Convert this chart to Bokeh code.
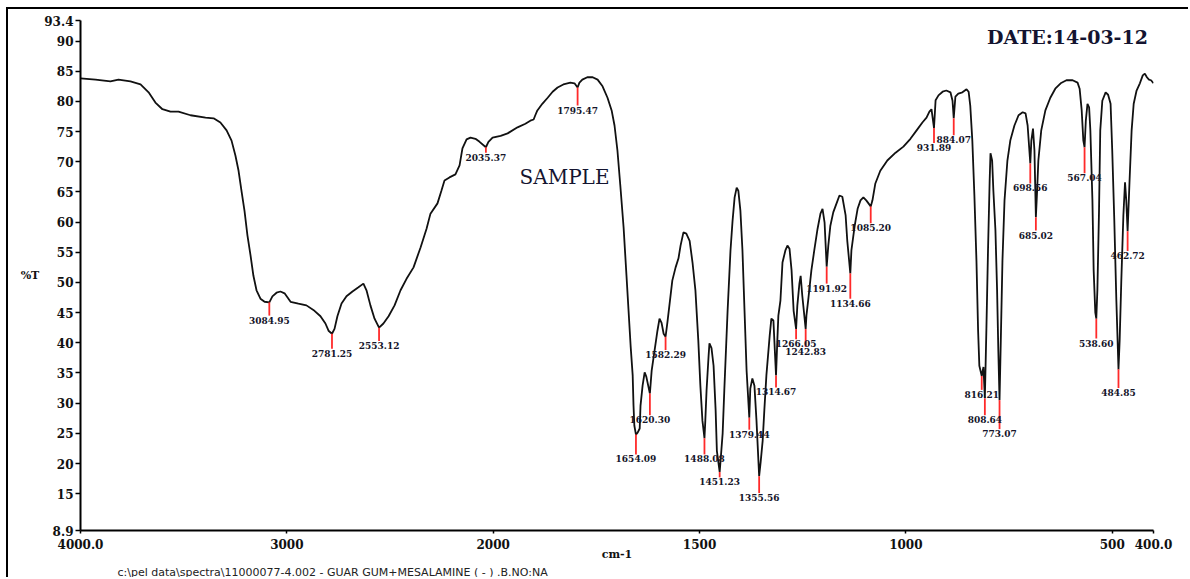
import numpy as np
from bokeh.plotting import figure
from bokeh.models import FixedTicker, Label, Title, ColumnDataSource
from bokeh.core.properties import value
from bokeh.embed import file_html
from bokeh.resources import INLINE

# FT-IR transmittance spectrum: wavenumber (cm-1) and %T
wavenumber = [
    4000, 3927, 3855, 3816, 3758, 3709, 3670, 3637, 3603, 3564, 3525, 3467, 3394, 3355,
    3322, 3292, 3268, 3249, 3234, 3220, 3205, 3191, 3176, 3162, 3147, 3128, 3108, 3084.95,
    3070, 3050, 3031, 3011, 2982, 2944, 2905, 2866, 2837, 2813, 2798, 2781.25, 2769, 2755,
    2735, 2711, 2682, 2653, 2629, 2614, 2595, 2575, 2553.12, 2532, 2507, 2478, 2449, 2420,
    2386, 2352, 2323, 2304, 2270, 2251, 2236, 2212, 2183, 2163, 2149, 2129, 2110, 2086,
    2066, 2035.37, 2023, 2003, 1982, 1965, 1941, 1922, 1910, 1902, 1898, 1893, 1881, 1868,
    1856, 1844, 1830, 1813, 1803, 1795.47, 1791, 1784, 1772, 1759, 1747, 1735, 1723, 1713,
    1706, 1699, 1692, 1684, 1677, 1672, 1667, 1662, 1660, 1658, 1654.09, 1650, 1645, 1643,
    1638, 1633, 1629, 1620.30, 1616, 1609, 1602, 1597, 1592, 1587, 1582.29, 1578, 1573,
    1566, 1558, 1551, 1546, 1539, 1532, 1524, 1517, 1510, 1503, 1498, 1493, 1488.08, 1486,
    1483, 1478, 1476, 1471, 1466, 1461, 1458, 1451.23, 1449, 1444, 1440, 1432, 1425, 1420,
    1415, 1410, 1406, 1401, 1396, 1391, 1386, 1379.44, 1377, 1372, 1367, 1362, 1355.56,
    1352, 1347, 1343, 1338, 1330, 1326, 1321, 1314.67, 1312, 1309, 1304, 1299, 1292, 1287,
    1282, 1277, 1272, 1266.05, 1263, 1258, 1255, 1251, 1242.83, 1241, 1236, 1229, 1222,
    1214, 1207, 1202, 1197, 1191.92, 1188, 1183, 1176, 1168, 1161, 1154, 1146, 1142,
    1134.66, 1132, 1124, 1117, 1110, 1103, 1096, 1085.20, 1081, 1074, 1062, 1045, 1025,
    1006, 989, 974, 960, 950, 943, 938, 931.89, 928, 921, 911, 902, 892, 887, 884.07, 880,
    873, 863, 853, 848, 844, 839, 834, 829, 825, 822, 816.21, 812, 808.64, 805, 801, 797,
    795, 791, 788, 783, 779, 776, 773.07, 770, 766, 761, 754, 747, 737, 727, 717, 710, 705,
    698.56, 696, 692, 688.5, 685.02, 682, 679, 672, 662, 650, 638, 625, 611, 596, 584, 579,
    574, 570, 567.04, 564, 560, 556, 553, 548, 545, 541, 538.60, 536, 532, 529, 524, 516,
    510, 504, 500, 495, 490, 484.85, 482, 478, 473, 469, 466, 462.72, 458, 453, 448, 441,
    433, 426, 421, 416, 411, 406, 400,
]
transmittance = [
    83.8, 83.6, 83.3, 83.6, 83.3, 82.8, 81.5, 79.8, 78.7, 78.3, 78.3, 77.7, 77.3, 77.2,
    76.5, 75.2, 73.5, 71.0, 68.5, 65.2, 61.8, 57.8, 54.5, 51.1, 48.7, 47.3, 46.8, 46.7,
    47.7, 48.3, 48.5, 48.2, 46.8, 46.5, 46.2, 45.3, 44.4, 43.2, 42.0, 41.5, 42.3, 44.4,
    46.5, 47.7, 48.5, 49.2, 49.8, 48.7, 46.2, 44.0, 42.5, 43.2, 44.4, 46.2, 48.7, 50.6,
    52.5, 55.8, 58.9, 61.4, 63.1, 65.2, 66.9, 67.4, 67.9, 69.4, 72.2, 73.7, 74.0, 73.8,
    73.3, 72.4, 73.3, 74.0, 74.3, 74.7, 75.7, 76.3, 76.8, 77.0, 77.7, 78.5, 79.6, 80.6,
    81.6, 82.3, 82.8, 83.1, 83.0, 82.3, 83.1, 83.6, 84.0, 84.0, 83.6, 82.5, 80.6, 78.5,
    76.0, 71.9, 66.1, 59.1, 51.1, 45.3, 39.5, 34.6, 29.6, 26.3, 24.8, 25.1, 25.8, 29.6,
    32.9, 35.1, 34.4, 31.6, 35.4, 38.7, 42.0, 44.0, 43.3, 41.5, 41.0, 43.3, 46.2,
    50.3, 52.5, 54.0, 56.1, 58.3, 58.1, 56.9, 53.3, 48.7, 40.4, 32.9, 27.1, 24.2, 27.1,
    32.1, 37.9, 39.9, 39.1, 36.2, 28.8, 22.1, 18.6, 20.5, 25.0, 32.1, 45.3, 55.3, 60.2,
    64.1, 65.7, 65.2, 61.9, 55.3, 45.3, 35.4, 27.6, 32.4, 34.1, 32.9, 27.1, 17.9,
    20.2, 23.8, 28.8, 34.6, 41.2, 44.0, 43.7, 34.6, 39.5, 44.5, 47.0, 53.3, 55.3, 56.1,
    55.6, 52.0, 45.3, 42.3, 46.2, 49.8, 51.1, 47.8, 42.3, 44.5, 47.5, 52.0, 55.3,
    58.9, 61.4, 62.2, 59.9, 52.6, 56.1, 59.4, 61.6, 63.1, 64.4, 64.2, 61.1, 56.9,
    51.5, 55.3, 59.4, 62.2, 63.6, 64.1, 63.6, 62.6, 63.6, 66.4, 68.5, 70.2, 71.5,
    72.5, 73.8, 75.2, 76.5, 77.3, 78.3, 78.7, 75.6, 80.2, 81.0, 81.6, 81.8, 81.5, 80.1, 77.2, 80.8,
    81.3, 81.5, 82.0, 81.6, 79.3, 73.5, 64.4, 53.6, 42.0, 36.2, 34.5, 36.0, 30.8, 42.0, 55.3, 66.9,
    71.4, 70.2, 65.2, 58.6, 48.7, 38.7, 30.5, 40.4, 53.6, 63.6, 70.2, 73.5, 76.0, 77.7, 78.2, 78.0, 76.0,
    69.7, 73.5, 75.5, 71.9, 60.8, 65.2, 70.2, 75.2, 78.5, 80.6, 82.1, 83.0, 83.5, 83.5, 83.1, 82.1,
    78.5, 73.5, 72.4, 76.8, 79.6, 79.0, 75.2, 63.6, 52.0, 45.0, 44.0, 48.7, 61.9, 75.2, 80.1, 81.5,
    81.1, 79.6, 71.9, 60.3, 47.0, 35.6, 40.4, 50.3, 61.1, 66.6, 63.6, 58.5, 66.9, 75.2, 79.6, 81.8,
    83.0, 84.3, 84.6, 84.0, 83.6, 83.5, 83.0,
]

# Picked bands and their labels
peak_wavenumber = [
    3084.95, 2781.25, 2553.12, 2035.37, 1795.47, 1654.09, 1620.30, 1582.29, 1488.08,
    1451.23, 1379.44, 1355.56, 1314.67, 1266.05, 1242.83, 1191.92, 1134.66, 1085.20,
    931.89, 884.07, 816.21, 808.64, 773.07, 698.56, 685.02, 567.04, 538.60, 484.85, 462.72,
]
peak_label = [f"{w:.2f}" for w in peak_wavenumber]

# Length of each red marker below its band, in %T
marker_drop = [
    2.2, 2.5, 2.2, 0.9, 3.0, 3.3, 3.6, 2.2, 2.7,
    0.9, 2.0, 2.8, 2.0, 1.7, 3.0, 2.8, 4.2, 2.8,
    2.5, 2.8, 2.3, 2.8, 4.8, 3.3, 2.2, 4.3, 3.3, 3.1, 3.3,
]

x_tick_values = [4000, 3000, 2000, 1500, 1000, 500, 400]
x_tick_labels = ["4000.0", "3000", "2000", "1500", "1000", "500", "400.0"]
y_tick_values = [8.9, 15, 20, 25, 30, 35, 40, 45, 50, 55, 60, 65, 70, 75, 80, 85, 90, 93.4]
y_tick_labels = ["8.9", "15", "20", "25", "30", "35", "40", "45", "50", "55", "60",
                 "65", "70", "75", "80", "85", "90", "93.4"]

FILE_LABEL = r"c:\pel data\spectra\11000077-4.002 - GUAR GUM+MESALAMINE ( - ) .B.NO:NA"


def axis_pos(w):
    """Instrument abscissa: the scale is expanded twofold below 2000 cm-1."""
    w = np.asarray(w, dtype=float)
    return np.where(w >= 2000, 4000 - w, 2000 + 2 * (2000 - w))


wn = np.array(wavenumber, dtype=float)
tr = np.array(transmittance, dtype=float)
peak_t = np.interp(peak_wavenumber, wn[::-1], tr[::-1])
drop = np.array(marker_drop)

SERIF = "DejaVu Serif"

p = figure(
    width=1182, height=570,
    x_range=(0, 5200), y_range=(8.9, 93.4),
    output_backend="svg", toolbar_location=None,
    min_border_left=72, min_border_right=37, min_border_top=11, min_border_bottom=49,
)
p.styles = {
    "margin-left": "6px", "margin-top": "7px",
    "border-left": "2px solid #000", "border-top": "2px solid #000",
}
p.outline_line_color = None
p.grid.visible = False
p.background_fill_color = "white"
p.border_fill_color = "white"

spectrum = ColumnDataSource(data=dict(x=axis_pos(wn), y=tr))
p.line("x", "y", source=spectrum, line_color="#111111", line_width=1.8)

peaks = ColumnDataSource(data=dict(
    x=axis_pos(peak_wavenumber), top=peak_t, bottom=peak_t - drop, label=peak_label,
))
p.segment(x0="x", y0="top", x1="x", y1="bottom", source=peaks,
          line_color="#ff2a2a", line_width=1.8)
p.text(x="x", y="bottom", text="label", source=peaks,
       text_font=value(SERIF), text_font_style="bold", text_font_size="9px",
       text_color="#15152a", text_align="center", text_baseline="top", y_offset=1)

# axes
xa = p.xaxis[0]
xa.ticker = FixedTicker(ticks=[float(v) for v in axis_pos(x_tick_values)])
xa.major_label_overrides = {float(v): lab for v, lab in zip(axis_pos(x_tick_values), x_tick_labels)}
xa.axis_label = "cm-1"
xa.axis_label_standoff = -4
xa.major_tick_out = 3
xa.major_tick_in = 0
xa.major_label_standoff = 5

ya = p.yaxis[0]
ya.ticker = FixedTicker(ticks=y_tick_values)
ya.major_label_overrides = {float(v): lab for v, lab in zip(y_tick_values, y_tick_labels)}
ya.axis_label = "%T"
ya.axis_label_standoff = 2
if "axis_label_orientation" in ya.properties():
    ya.axis_label_orientation = "horizontal"
ya.major_tick_out = 5
ya.major_tick_in = 0
ya.major_label_standoff = 2

for ax in (xa, ya):
    ax.axis_line_color = "#000000"
    ax.axis_line_width = 2
    ax.major_tick_line_color = "#000000"
    ax.major_tick_line_width = 1.5
    ax.minor_tick_line_color = None
    ax.major_label_text_font = SERIF
    ax.major_label_text_font_style = "bold"
    ax.major_label_text_font_size = "12px"
    ax.major_label_text_color = "#111111"
    ax.axis_label_text_font = SERIF
    ax.axis_label_text_font_style = "bold"
    ax.axis_label_text_font_size = "11px"
    ax.axis_label_text_color = "#111111"

p.add_layout(Label(x=float(axis_pos(608.4)), y=90.6, text="DATE:14-03-12", text_font=SERIF,
                   text_font_style="bold", text_font_size="19px", text_align="center",
                   text_baseline="middle", text_color="#141430"))
p.add_layout(Label(x=float(axis_pos(1827.2)), y=67.4, text="SAMPLE", text_font=SERIF,
                   text_font_size="20px", text_align="center", text_baseline="middle",
                   text_color="#141430"))

# data file name under the axis
p.add_layout(Title(text=FILE_LABEL, align="left", offset=37, standoff=0,
                   text_font="DejaVu Sans", text_font_size="11px",
                   text_font_style="normal", text_color="#222222"), "below")

open("out.html", "w").write(file_html(p, INLINE))
